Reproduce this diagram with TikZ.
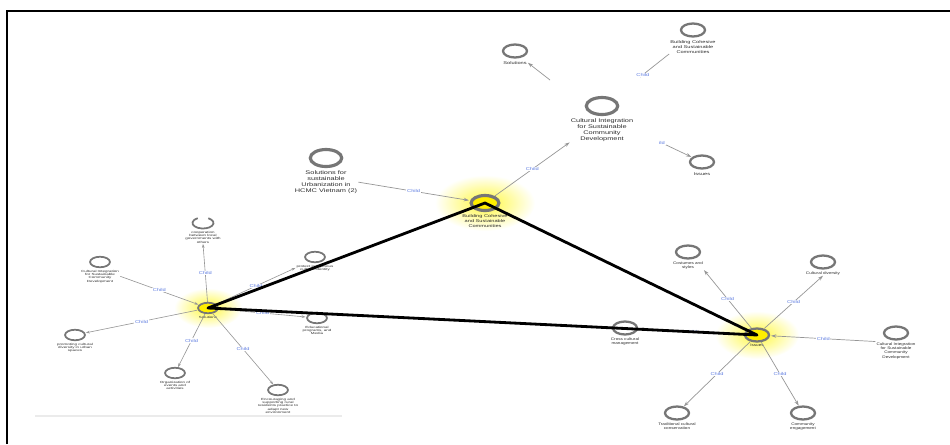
\documentclass[tikz,border=0pt]{standalone}
\usepackage{fontspec}
\setmainfont{Liberation Sans}
\usetikzlibrary{positioning, arrows.meta, backgrounds}
\definecolor{ringgray}{RGB}{118,118,118}
\definecolor{edgegray}{RGB}{150,150,150}
\definecolor{childblue}{RGB}{95,125,225}
\definecolor{txtgray}{RGB}{45,45,45}
\definecolor{hub}{RGB}{255,238,0}
\definecolor{glow}{RGB}{255,248,60}

\tikzset{
  ringA/.style={circle, draw=ringgray, fill=white, line width=1.8pt, minimum size=0.34cm, inner sep=0pt, xscale=1.85},
  ringB/.style={circle, draw=ringgray, fill=white, line width=1.3pt, minimum size=0.26cm, inner sep=0pt, xscale=1.85},
  ringC/.style={circle, draw=ringgray, fill=white, line width=1pt, minimum size=0.21cm, inner sep=0pt, xscale=1.9},
  lblA/.style={align=center, inner sep=0.3pt, text=txtgray, font=\fontsize{3}{3.4}\selectfont, xscale=1.4},
  lblS/.style={align=center, inner sep=0.3pt, text=txtgray, font=\fontsize{2.3}{2.8}\selectfont, xscale=1.4},
  lblB/.style={align=center, inner sep=0.3pt, text=txtgray, font=\fontsize{2.1}{2.5}\selectfont, xscale=1.25},
  lblC/.style={align=center, inner sep=0.3pt, text=txtgray, font=\fontsize{1.7}{1.9}\selectfont, xscale=1.5},
  child/.style={text=childblue, fill=white, inner sep=0.3pt, font=\fontsize{2.4}{2.4}\selectfont, xscale=1.35},
  edge/.style={draw=edgegray, line width=0.4pt, -{Stealth[length=3pt, width=2pt]}},
  edgeS/.style={draw=edgegray, line width=0.35pt, -{Stealth[length=2.2pt, width=1.5pt]}},
  tri/.style={draw=black, line width=1.6pt, line join=round},
}

\begin{document}
\begin{tikzpicture}[x=0.02cm, y=-0.02cm]
    \useasboundingbox (0,0) rectangle (950,444);

    % Frame (top and left edges only)
    \draw[line width=1.1pt] (7,444) -- (7,11) -- (950,11);
    \draw[black!8, line width=0.6pt] (35,416) -- (342,416); % faint rule below the left group

    % Top group
    \node[ringB] (solT) at (515,51) {};
    \node[lblS, below=1pt of solT] (solTl) {Solutions};
    \node[ringB] (cohT) at (693,30) {};
    \node[lblS, below=1pt of cohT] (cohTl) {Building Cohesive\\and Sustainable\\Communities};
    \node[ringA] (culT) at (602,106) {};
    \node[lblA, below=1pt of culT] (culTl) {Cultural Integration\\for Sustainable\\Community\\Development};
    \node[ringB] (issT) at (702,162) {};
    \node[lblS, below=1pt of issT] (issTl) {Issues};
    \coordinate (solF) at (550,80);
    \coordinate (cohF) at (640,77);
    \coordinate (issF) at (662,143);
    \draw[edge] (solF) -- (solTl.east);
    \draw[draw=edgegray, line width=0.4pt] (cohTl.south west) -- (cohF) node[child, pos=0.9] {Child};
    \draw[edge] (issF) -- (issT) node[child, pos=0] {ild};

    % Middle: Building Cohesive hub and HCMC node
    \node[ringA, fill=hub, minimum size=0.3cm] (cohC) at (485,203) {};
    \node[lblS, below=1pt of cohC] (cohCl) {Building Cohesive\\and Sustainable\\Communities};
    \node[ringA] (hcm) at (326,158) {};
    \node[lblA, below=1pt of hcm] (hcml) {Solutions for\\sustainable\\Urbanization in\\HCMC Vietnam (2)};
    \draw[edge] (hcml.east) -- (cohC) node[child, midway] {Child};
    \draw[edge] (cohC) -- (culTl.south west) node[child, midway] {Child};

    % Left group: Solutions hub
    \node[ringC, fill=hub] (solC) at (208,308) {};
    \node[lblC, below=0.5pt of solC] (solCl) {Solutions};
    \node[ringC, draw=none, fill=none] (coop) at (203,223) {};
    \draw[ringgray, line width=1pt] (coop.center) ++(-60:10.5 and 5.5) arc[start angle=-60, end angle=240, x radius=10.5, y radius=5.5];
    \node[lblC, below=0.5pt of coop] (coopl) {cooperation\\between local\\governments with\\others};
    \node[ringC] (cilL) at (100,262) {};
    \node[lblC, below=0.5pt of cilL] (cilLl) {Cultural Integration\\for Sustainable\\Community\\Development};
    \node[ringC] (prom) at (75,335) {};
    \node[lblC, below=0.5pt of prom] (proml) {promoting cultural\\diversity in urban\\spaces};
    \node[ringC] (prot) at (315,257) {};
    \node[lblC, below=0.5pt of prot] (protl) {protect indigenous\\cultural identity};
    \node[ringC] (edu) at (317,318) {};
    \node[lblC, below=0.5pt of edu] (edul) {Educational\\programs, and\\Media};
    \node[ringC] (org) at (175,373) {};
    \node[lblC, below=0.5pt of org] (orgl) {Organization of\\events and\\activities};
    \node[ringC] (enc) at (278,390) {};
    \node[lblC, below=0.5pt of enc] (encl) {Encouraging and\\supporting rural\\residents practice to\\adapt new\\environment};
    \draw[edgeS] (solC) -- (coopl.south) node[child, midway] {Child};
    \draw[edgeS] (cilLl.east) -- (solC) node[child, midway] {Child};
    \draw[edgeS] (solC) -- (prom) node[child, midway] {Child};
    \draw[edgeS] (solC) -- (protl.west) node[child, midway] {Child};
    \draw[edgeS] (solC) -- (edu) node[child, midway] {Child};
    \draw[edgeS] (solC) -- (org) node[child, midway] {Child};
    \draw[edgeS] (solC) -- (enc) node[child, midway] {Child};

    % Right group: Issues hub
    \node[ringB, fill=hub] (issC) at (757,335) {};
    \node[lblB, below=0.5pt of issC] (issCl) {Issues};
    \node[ringB] (cos) at (688,252) {};
    \node[lblB, below=0.5pt of cos] (cosl) {Costumes and\\styles};
    \node[ringB] (div) at (823,262) {};
    \node[lblB, below=0.5pt of div] (divl) {Cultural diversity};
    \node[ringB] (cir) at (896,333) {};
    \node[lblB, below=0.5pt of cir] (cirl) {Cultural Integration\\for Sustainable\\Community\\Development};
    \node[ringB] (ccm) at (625,328) {};
    \node[lblB, below=0.5pt of ccm] (ccml) {Cross cultural\\management};
    \node[ringB] (tra) at (677,413) {};
    \node[lblB, below=0.5pt of tra] (tral) {Traditional cultural\\conservation};
    \node[ringB] (com) at (803,413) {};
    \node[lblB, below=0.5pt of com] (coml) {Community\\engagement};
    \draw[edge] (issC) -- (cosl.south east) node[child, midway] {Child};
    \draw[edge] (issC) -- (divl.south) node[child, midway] {Child};
    \draw[edge] (cirl.north west) -- (issC) node[child, midway] {Child};
    \draw[edge] (issC) -- (ccm) node[child, midway] {Child};
    \draw[edge] (issC) -- (tra) node[child, midway] {Child};
    \draw[edge] (issC) -- (com) node[child, midway] {Child};

    % Yellow glow behind the three hubs
    \begin{scope}[on background layer]
        \shade[inner color=glow, outer color=white] (cohC.center) ellipse [x radius=50, y radius=28];
        \shade[inner color=glow, outer color=white] (solC.center) ellipse [x radius=34, y radius=20];
        \shade[inner color=glow, outer color=white] (issC.center) ellipse [x radius=42, y radius=24];
    \end{scope}

    % Thick black triangle between the hubs
    \draw[tri] (cohC.center) -- (solC.center) -- (issC.center) -- cycle;
\end{tikzpicture}
\end{document}
